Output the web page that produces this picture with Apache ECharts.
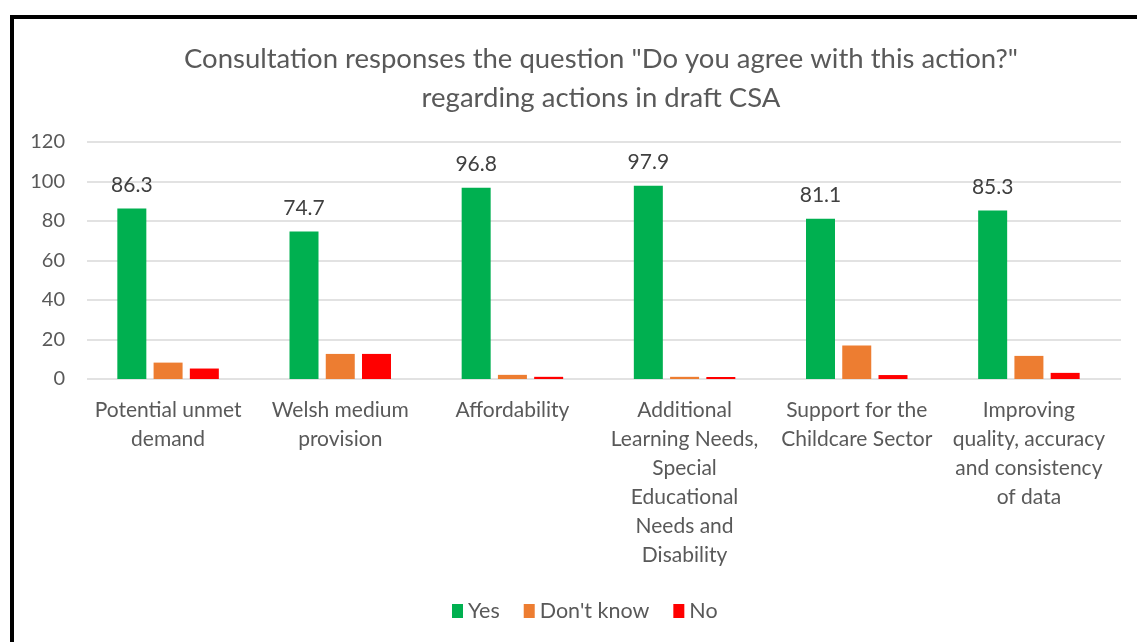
<!DOCTYPE html>
<html>
<head>
<meta charset="utf-8">
<script src="https://cdn.jsdelivr.net/npm/echarts@6/dist/echarts.min.js"></script>
<style>
html,body{margin:0;padding:0;background:#fff;}
#chart{width:1137px;height:642px;}
</style>
</head>
<body>
<div id="chart"></div>
<script>
const categories = [
  "Potential unmet\ndemand",
  "Welsh medium\nprovision",
  "Affordability",
  "Additional\nLearning Needs,\nSpecial\nEducational\nNeeds and\nDisability",
  "Support for the\nChildcare Sector",
  "Improving\nquality, accuracy\nand consistency\nof data"
];
const yesValues = [86.3, 74.7, 96.8, 97.9, 81.1, 85.3];
const dontKnowValues = [8.3, 12.7, 2.1, 1.1, 16.9, 11.7];
const noValues = [5.3, 12.7, 1.1, 1.0, 2.0, 3.1];
const yTicks = [0, 20, 40, 60, 80, 100, 120];

const FONT = "Lato, 'Liberation Sans', sans-serif";
const chart = echarts.init(document.getElementById('chart'), null, {renderer: 'canvas'});
const option = {
  backgroundColor: '#fff',
  animation: false,
  textStyle: {fontFamily: FONT},
  title: {
    text: 'Consultation responses the question "Do you agree with this action?"\nregarding actions in draft CSA',
    left: 596,
    top: 35,
    textAlign: 'center',
    textStyle: {fontFamily: FONT, fontSize: 27.5, fontWeight: 'normal', color: '#595959', lineHeight: 39}
  },
  legend: {
    data: ['Yes', "Don't know", 'No'],
    left: 447,
    top: 595,
    itemWidth: 11,
    itemHeight: 14,
    itemGap: 24,
    icon: 'rect',
    textStyle: {fontFamily: FONT, fontSize: 21.5, color: '#595959', padding: [0, 0, 0, 0]}
  },
  grid: [
    {left: 82, right: 22, top: 142, bottom: 263},
    {left: 87, right: 16, top: 142, bottom: 263}
  ],
  xAxis: [
    {
      type: 'category', gridIndex: 0, data: categories,
      axisLine: {show: false}, axisTick: {show: false},
      axisLabel: {interval: 0, fontFamily: FONT, fontSize: 21, color: '#595959', lineHeight: 29, margin: 17}
    },
    {type: 'category', gridIndex: 1, data: categories, show: false}
  ],
  yAxis: [
    {type: 'value', gridIndex: 0, min: 0, max: 120, interval: 20, show: false},
    {
      type: 'value', gridIndex: 1, min: 0, max: 120, interval: 20,
      axisLine: {show: false}, axisTick: {show: false},
      axisLabel: {fontFamily: FONT, fontSize: 20, color: '#595959', margin: 22,
        formatter: v => yTicks.includes(v) ? String(v) : ''},
      splitLine: {lineStyle: {color: '#d9d9d9', width: 1.5}}
    }
  ],
  series: [
    {
      name: 'Yes', type: 'bar', xAxisIndex: 0, yAxisIndex: 0, data: yesValues,
      barWidth: 29, barGap: '25%',
      itemStyle: {color: '#00B050'},
      label: {show: true, position: 'top', distance: 13, fontFamily: FONT, fontSize: 21, color: '#404040'}
    },
    {
      name: "Don't know", type: 'bar', xAxisIndex: 0, yAxisIndex: 0, data: dontKnowValues,
      barWidth: 29, barGap: '25%',
      itemStyle: {color: '#ED7D31'}
    },
    {
      name: 'No', type: 'bar', xAxisIndex: 0, yAxisIndex: 0, data: noValues,
      barWidth: 29, barGap: '25%',
      itemStyle: {color: '#FF0000'}
    }
  ],
  graphic: [
    {type: 'rect', z: 100, silent: true,
      shape: {x: 12, y: 17, width: 1300, height: 800},
      style: {fill: 'none', stroke: '#000', lineWidth: 4}}
  ]
};
chart.setOption(option);
</script>
</body>
</html>
